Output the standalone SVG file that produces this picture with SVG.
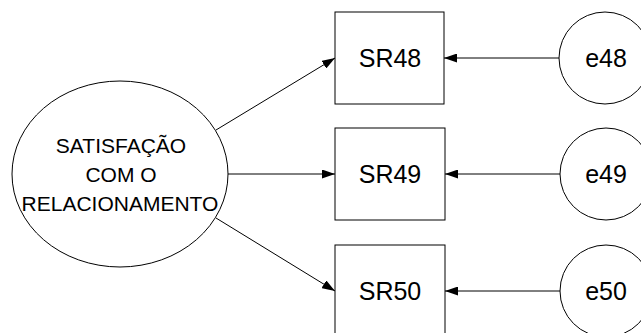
<svg xmlns="http://www.w3.org/2000/svg" width="641" height="333" viewBox="0 0 641 333">
<defs>
<style>
.shape{fill:#fff;stroke:#000;stroke-width:1}
.lbl{font-family:"Liberation Sans",Arial,sans-serif;fill:#000;text-anchor:middle}
.big{font-size:25px}
.sm{font-size:21px}
.con{stroke:#000;stroke-width:1;fill:none;marker-end:url(#ah)}
</style>
<marker id="ah" viewBox="0 0 13 9" refX="13" refY="4.5" markerWidth="13" markerHeight="9" markerUnits="userSpaceOnUse" orient="auto">
<path d="M0,0 L13,4.5 L0,9 Z" fill="#000"/>
</marker>
</defs>
<rect width="641" height="333" fill="#fff"/>
<g id="connectors">
<line class="con" x1="216" y1="130" x2="335" y2="58"/>
<line class="con" x1="228" y1="174" x2="335" y2="174"/>
<line class="con" x1="216" y1="218" x2="335" y2="291"/>
<line class="con" x1="559" y1="58" x2="444" y2="58"/>
<line class="con" x1="560" y1="174" x2="445" y2="174"/>
<line class="con" x1="560" y1="291" x2="445" y2="291"/>
</g>
<g id="latent">
<ellipse class="shape" cx="120" cy="174" rx="108" ry="93"/>
<text class="lbl sm" x="121" y="153">SATISFAÇÃO</text>
<text class="lbl sm" x="121" y="182">COM O</text>
<text class="lbl sm" x="120" y="211">RELACIONAMENTO</text>
</g>
<g id="SR48">
<rect class="shape" x="335" y="12" width="109" height="92"/>
<text class="lbl big" x="390" y="67">SR48</text>
</g>
<g id="SR49">
<rect class="shape" x="335" y="128" width="110" height="92"/>
<text class="lbl big" x="390" y="183">SR49</text>
</g>
<g id="SR50">
<rect class="shape" x="335" y="245" width="110" height="92"/>
<text class="lbl big" x="390" y="300">SR50</text>
</g>
<g id="e48">
<circle class="shape" cx="605" cy="58" r="46"/>
<text class="lbl big" x="606" y="67">e48</text>
</g>
<g id="e49">
<circle class="shape" cx="606" cy="174" r="46"/>
<text class="lbl big" x="606" y="183">e49</text>
</g>
<g id="e50">
<circle class="shape" cx="606" cy="291" r="46"/>
<text class="lbl big" x="606" y="300">e50</text>
</g>
</svg>
